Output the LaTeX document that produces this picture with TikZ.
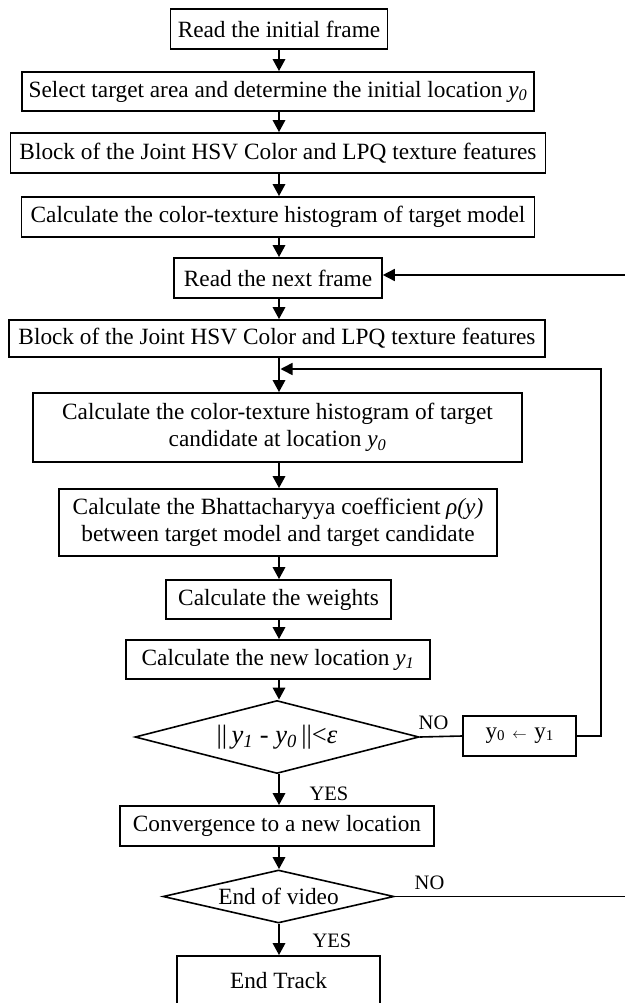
\documentclass[tikz,border=0pt]{standalone}
\usepackage{fontspec}
\setmainfont{Liberation Serif}
\usetikzlibrary{arrows.meta,shapes.geometric}
\newcommand{\yy}[1]{\textit{y}\textsubscript{\textit{#1}}}
\begin{document}
\begin{tikzpicture}[x=1pt,y=-1pt,
  box/.style={draw,line width=1.6pt,rectangle,inner sep=0pt,align=center,
    font=\fontsize{23.3}{27}\selectfont},
  dec/.style={draw,line width=1.6pt,diamond,inner sep=0pt,
    font=\fontsize{23.3}{27}\selectfont},
  arr/.style={line width=2.8pt,-{Triangle[length=12pt,width=12pt]}},
  fb/.style={line width=1.6pt},
  fbarr/.style={line width=1.6pt,-{Triangle[length=12pt,width=12pt]}},
  lab/.style={inner sep=0pt,font=\fontsize{20.5}{22}\selectfont}]
\useasboundingbox (0,0) rectangle (624,1003);
\fill[white] (0,0) rectangle (624,1003);

\node[box,minimum width=217pt,minimum height=40pt] (b1) at (279,29) {Read the initial frame};
\node[box,minimum width=512pt,minimum height=39pt] (b2) at (278,91.5) {Select target area and determine the initial location \yy{0}};
\node[box,minimum width=535pt,minimum height=40pt] (b3) at (278,153) {Block of the Joint HSV Color and LPQ texture features};
\node[box,minimum width=513pt,minimum height=40pt] (b4) at (278,217) {Calculate the color-texture histogram of target model};
\node[box,minimum width=208pt,minimum height=40pt] (b5) at (278,278) {Read the next frame};
\node[box,minimum width=536pt,minimum height=37pt] (b6) at (277,338.5) {Block of the Joint HSV Color and LPQ texture features};
\node[box,minimum width=489pt,minimum height=69pt] (b7) at (277.5,427.5) {Calculate the color-texture histogram of target\\candidate at location \yy{0}};
\node[box,minimum width=438pt,minimum height=67pt] (b8) at (278,522.5) {Calculate the Bhattacharyya coefficient \textit{ρ(y)}\\between target model and target candidate};
\node[box,minimum width=225pt,minimum height=39pt] (b9) at (278.5,599.5) {Calculate the weights};
\node[box,minimum width=304pt,minimum height=39pt] (b10) at (278,659.5) {Calculate the new location \yy{1}};
\node[dec,aspect=3.9,minimum width=284pt,minimum height=73pt,font=\fontsize{26.5}{28}\selectfont] (d1) at (277,737) {||\,\yy{1} - \yy{0}\,||<\textit{ε}};
\node[box,minimum width=113pt,minimum height=40pt,font=\fontsize{23}{24}\selectfont] (yb) at (519.5,736) {y\raisebox{-2pt}{\fontsize{15}{15}\selectfont 0}\,\,{\fontsize{15}{15}\selectfont$\leftarrow$}\,\,y\raisebox{-2pt}{\fontsize{15}{15}\selectfont 1}};
\node[box,minimum width=314pt,minimum height=40pt] (b11) at (277,826) {Convergence to a new location};
\node[dec,aspect=4.36,minimum width=231pt,minimum height=53pt] (d2) at (278.5,896.5) {End of video};
\node[box,minimum width=203pt,minimum height=50pt] (b12) at (278.5,981) {End Track};

\node[lab] (no1) at (433.5,722.5) {NO};
\node[lab] (yes1) at (329,794) {YES};
\node[lab] (no2) at (429.5,882.5) {NO};
\node[lab] (yes2) at (332,940.5) {YES};

\coordinate (ax) at (279,0);
\draw[arr] (b1.south -| ax) -- (b2.north -| ax);
\draw[arr] (b2.south -| ax) -- (b3.north -| ax);
\draw[arr] (b3.south -| ax) -- (b4.north -| ax);
\draw[arr] (b4.south -| ax) -- (b5.north -| ax);
\draw[arr] (b5.south -| ax) -- (b6.north -| ax);
\draw[arr] (b6.south -| ax) -- (b7.north -| ax);
\draw[arr] (b7.south -| ax) -- (b8.north -| ax);
\draw[arr] (b8.south -| ax) -- (b9.north -| ax);
\draw[arr] (b9.south -| ax) -- (b10.north -| ax);
\draw[arr] (b10.south -| ax) -- (d1.north -| ax);
\draw[arr] (d1.south -| ax) -- (b11.north -| ax);
\draw[arr] (b11.south -| ax) -- (d2.north -| ax);
\draw[arr] (d2.south -| ax) -- (b12.north -| ax);

\coordinate (m) at (280.5,369);
\coordinate (fr) at (601,369);
\draw[fb] (d1.east) -- (yb.west);
\draw[fbarr] (yb.east) -| (fr) -- (m);

\coordinate (er) at (626.5,896.5);
\coordinate (et) at (626.5,275);
\draw[fbarr] (d2.east) -- (er) -- (et) -- (b5.east |- et);
\end{tikzpicture}
\end{document}
